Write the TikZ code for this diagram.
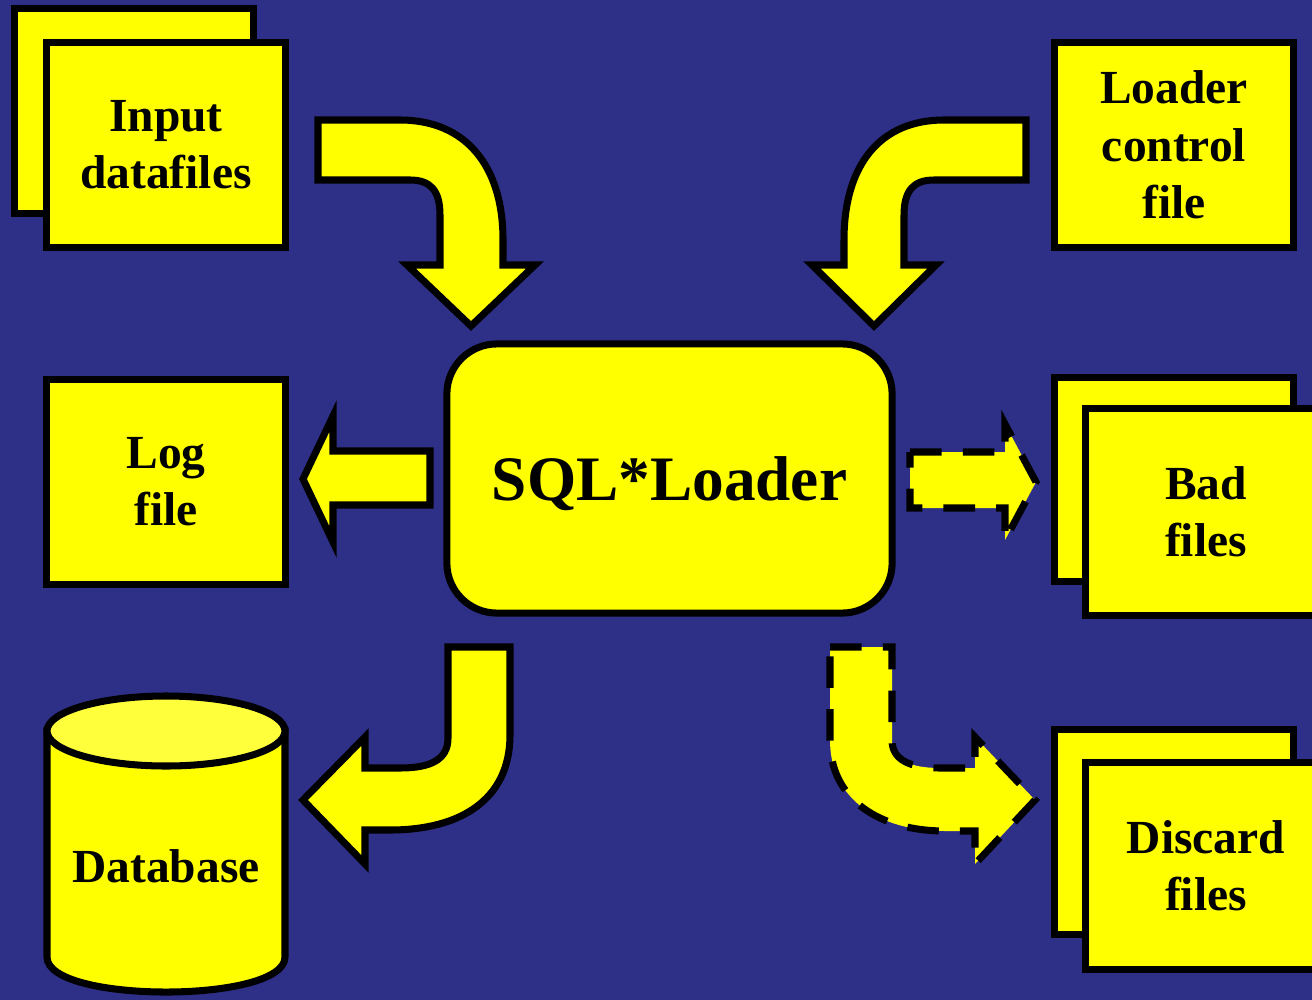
\documentclass[tikz,border=0pt]{standalone}
\usepackage{fontspec}
\setmainfont{Liberation Serif}
\definecolor{slidebg}{RGB}{46,47,135}
\definecolor{boxyellow}{RGB}{255,255,0}
\definecolor{topyellow}{RGB}{255,255,60}

\begin{document}
\begin{tikzpicture}[x=0.01cm, y=-0.01cm,
        filebox/.style={draw, fill=boxyellow, line width=2pt, minimum width=2.38cm, minimum height=2.04cm,
            align=center, font=\bfseries\fontsize{13.5}{16.3}\selectfont},
        loaderbox/.style={draw, fill=boxyellow, line width=2pt, rounded corners=0.5cm, text depth=0pt,
            minimum width=4.45cm, minimum height=2.69cm, font=\bfseries\fontsize{18}{21}\selectfont},
        blockarrow/.style={draw, fill=boxyellow, line width=2pt, line join=miter},
        dashedarrow/.style={blockarrow, dash pattern=on 9pt off 6pt}
    ]
        % Background
        \useasboundingbox (0,0) rectangle (1312,1000);
        \clip (0,0) rectangle (1312,1000);
        \fill[slidebg] (0,0) rectangle (1312,1000);

        % Input side
        \node[filebox] (inputback) at (134,111) {};
        \node[filebox] (input) at (166,145) {Input\\datafiles};
        \node[filebox] (control) at (1174,145) {Loader\\control\\file};

        % Centre
        \node[loaderbox] (loader) at (669.5,478.5) {SQL*Loader};

        % Output side
        \node[filebox] (log) at (166,482) {Log\\file};
        \node[filebox] (badback) at (1174,479.5) {};
        \node[filebox, minimum width=2.40cm, minimum height=2.07cm] (bad) at (1206,512) {Bad\\files};
        \node[filebox] (discardback) at (1174,832) {};
        \node[filebox, minimum width=2.40cm, minimum height=2.06cm] (discard) at (1206,866) {Discard\\files};

        % Database
        \filldraw[fill=boxyellow, line width=2pt] (47,731) -- (47,957)
            .. controls (47,1003.7) and (285,1003.7) .. (285,957) -- (285,731) -- cycle;
        \filldraw[fill=topyellow, line width=2pt] (166,731) ellipse [x radius=119, y radius=35];
        \node[font=\bfseries\fontsize{13.5}{16.3}\selectfont] (database) at (166,866) {Database};

        % Arrows into the loader
        \draw[blockarrow] (318,120) -- (400,120) .. controls (465,120) and (503,165) .. (503,240)
            -- (503,265) -- (535,265) -- (471,326) -- (407,265) -- (440,265) -- (440,215)
            .. controls (440,190) and (430,180) .. (410,180) -- (318,180) -- cycle;
        \draw[blockarrow] (1026,120) -- (944,120) .. controls (880,120) and (844,165) .. (844,240)
            -- (844,265) -- (812,265) -- (874,326) -- (936,265) -- (904,265) -- (904,215)
            .. controls (904,190) and (914,180) .. (934,180) -- (1026,180) -- cycle;

        % Arrows out of the loader
        \draw[blockarrow] (430,451) -- (430,505) -- (333,505) -- (333,542) -- (303,479)
            -- (333,416) -- (333,451) -- cycle;
        \draw[dashedarrow] (910,452) -- (1005,452) -- (1005,424) -- (1036,482) -- (1005,540)
            -- (1005,508) -- (910,508) -- cycle;
        \draw[blockarrow] (448,647) -- (510,647) -- (510,735) .. controls (510,800) and (460,830) .. (390,830)
            -- (365,830) -- (365,864) -- (303,800) -- (365,737) -- (365,768) -- (400,768)
            .. controls (430,768) and (448,760) .. (448,738) -- cycle;
        \draw[dashedarrow] (830,647) -- (892,647) -- (892,740) .. controls (892,760) and (910,768) .. (940,768)
            -- (975,768) -- (975,737) -- (1035,800) -- (975,864) -- (975,831) -- (945,831)
            .. controls (880,831) and (830,800) .. (830,740) -- cycle;
    \end{tikzpicture}
\end{document}
